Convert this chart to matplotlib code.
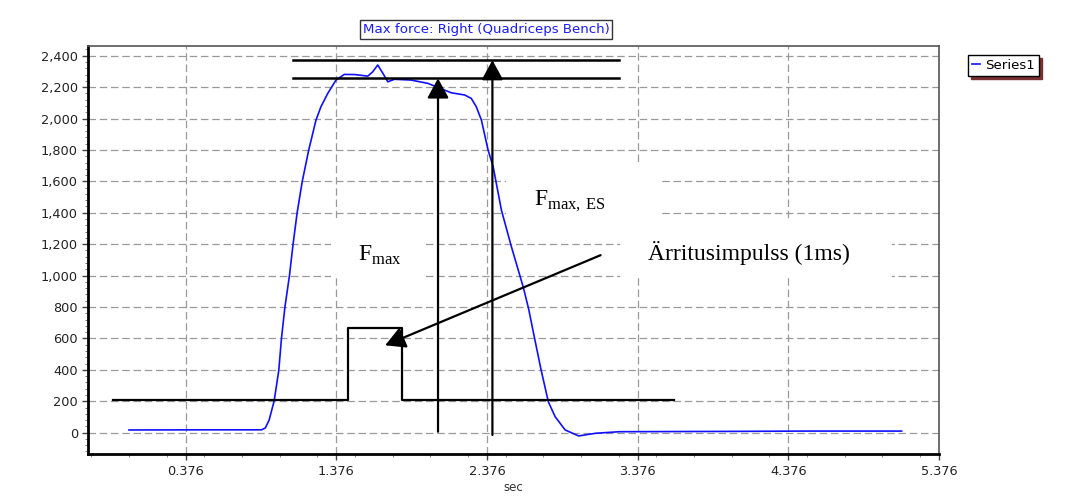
import matplotlib.pyplot as plt
import numpy as np
from matplotlib.patches import Rectangle
from matplotlib.ticker import AutoMinorLocator, FuncFormatter, MultipleLocator

plt.rcParams['mathtext.fontset'] = 'custom'
plt.rcParams['mathtext.rm'] = 'Liberation Serif'

# Force curve (sec, force)
time_s = [0.00, 0.50, 0.88, 0.905, 0.93, 0.963, 0.994, 1.012, 1.035, 1.065,
          1.089, 1.116, 1.15, 1.193, 1.241, 1.274, 1.319, 1.374, 1.429, 1.50,
          1.585, 1.618, 1.651, 1.685, 1.718, 1.762, 1.873, 1.984, 2.095, 2.139,
          2.228, 2.272, 2.305, 2.339, 2.383, 2.417, 2.472, 2.538, 2.616, 2.652,
          2.692, 2.735, 2.783, 2.828, 2.895, 2.984, 3.097, 3.254, 4.0, 4.5, 5.128]
force = [17, 18, 18, 30, 80, 200, 395, 600, 800, 1000,
         1200, 1400, 1600, 1800, 1990, 2075, 2160, 2245, 2281, 2280,
         2270, 2298, 2341, 2288, 2234, 2250, 2245, 2224, 2181, 2164,
         2150, 2128, 2075, 1990, 1800, 1693, 1416, 1184, 929, 790,
         600, 400, 197, 102, 17, -21, -4, 6, 8, 10, 10]

# stimulus pulse sketched onto the chart
pulse_t = [-0.106, 1.452, 1.452, 1.814, 1.814, 3.614]
pulse_y = [208, 208, 666, 666, 208, 208]

# F max levels
level_t = [1.091, 3.254]
fmax_es = 2372
fmax = 2256
fmax_arrow_t = 2.051
fmax_es_arrow_t = 2.412

xticks = [0.376, 1.376, 2.376, 3.376, 4.376, 5.376]
yticks = list(range(0, 2401, 200))

fig = plt.figure(figsize=(10.69, 5.01), dpi=100)
ax = fig.add_axes([0.0826, 0.0938, 0.7958, 0.8144])

ax.plot(time_s, force, color='#1010ff', lw=1.2, label='Series1', zorder=3)

ax.set_xlim(-0.27, 5.376)
ax.set_ylim(-136, 2462)
ax.set_xticks(xticks)
ax.set_xticklabels([f'{t:.3f}' for t in xticks])
ax.xaxis.set_minor_locator(MultipleLocator(0.25))
ax.set_yticks(yticks)
ax.yaxis.set_major_formatter(FuncFormatter(lambda v, p: f'{int(v):,}'))
ax.yaxis.set_minor_locator(AutoMinorLocator(5))
ax.tick_params(which='major', length=4, width=1, colors='#444', labelcolor='#222',
               labelsize=9.3, direction='out')
ax.tick_params(which='minor', length=2, width=0.7, colors='#888', direction='out')
ax.tick_params(axis='x', pad=4)
ax.set_xlabel('sec', fontsize=8.5, color='#333', labelpad=2)

ax.set_axisbelow(True)
ax.grid(True, which='major', color='#9a9a9a', lw=0.9, linestyle=(0, (6, 3)))

for side in ['left', 'bottom']:
    ax.spines[side].set_linewidth(2.0)
    ax.spines[side].set_color('black')
for side in ['top', 'right']:
    ax.spines[side].set_linewidth(1.2)
    ax.spines[side].set_color('#555555')

# white patches behind the annotation texts (they hide the grid)
boxes = [(1.341, 985, 0.632, 382), (2.505, 1303, 1.018, 401), (3.257, 985, 1.81, 369)]
for x0, y0, w, h in boxes:
    ax.add_patch(Rectangle((x0, y0), w, h, facecolor='white', edgecolor='none', zorder=0.9))

ax.plot(pulse_t, pulse_y, color='black', lw=1.6, zorder=4)
ax.plot(level_t, [fmax_es, fmax_es], color='black', lw=1.8, zorder=4)
ax.plot(level_t, [fmax, fmax], color='black', lw=1.8, zorder=4)

arrow = dict(arrowstyle='-|>,head_length=0.55,head_width=0.3', mutation_scale=22,
             color='black', lw=1.6, shrinkA=0, shrinkB=0)
ax.annotate('', xy=(fmax_arrow_t, fmax), xytext=(fmax_arrow_t, 6), arrowprops=arrow, zorder=5)
ax.annotate('', xy=(fmax_es_arrow_t, fmax_es), xytext=(fmax_es_arrow_t, -15), arrowprops=arrow, zorder=5)
ax.annotate('', xy=(1.70, 556), xytext=(3.13, 1130), arrowprops=arrow, zorder=5)

ax.text(1.667, 1131, r'F$_{\rm max}$', fontsize=17, family='Liberation Serif',
        ha='center', va='center', zorder=6)
ax.text(2.924, 1475, r'F$_{\rm max{,}\ ES}$', fontsize=17, family='Liberation Serif',
        ha='center', va='center', zorder=6)
ax.text(4.113, 1144, 'Ärritusimpulss (1ms)', fontsize=17, family='Liberation Serif',
        ha='center', va='center', zorder=6)

fig.text(0.455, 0.941, 'Max force: Right (Quadriceps Bench)', color='#1a1aff', fontsize=9.6,
         ha='center', va='center',
         bbox=dict(boxstyle='square,pad=0.2', facecolor='white', edgecolor='#333', lw=1))

leg = fig.legend(loc='upper left', bbox_to_anchor=(0.9053, 0.8902), fontsize=9.6,
                 borderaxespad=0, handlelength=0.6, handletextpad=0.4, borderpad=0.3,
                 fancybox=False, edgecolor='black', framealpha=1,
                 shadow={'color': '#7a3030', 'alpha': 1})
leg.get_frame().set_linewidth(1.0)

fig.savefig('out.png', dpi=100)
